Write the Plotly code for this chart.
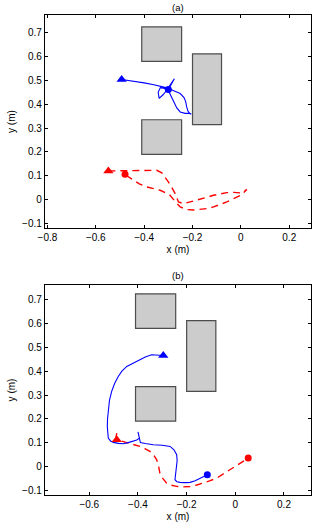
import plotly.graph_objects as go

# ---------------- data ----------------
# obstacles: [x0, x1, y0, y1]
obstacles = [
    [-0.41, -0.245, 0.58, 0.725],
    [-0.20, -0.08, 0.315, 0.612],
    [-0.41, -0.245, 0.19, 0.335],
]

# (a) blue trajectory
a_blue_x = [-0.493, -0.45, -0.40, -0.36, -0.334, -0.31, -0.28, -0.251, -0.235, -0.228, -0.224,
            -0.219, -0.212, -0.205, -0.214, -0.231, -0.251, -0.265, -0.276, -0.286, -0.296,
            -0.315, -0.333, -0.342, -0.338, -0.322, -0.306, -0.29, -0.275, -0.29, -0.30]
a_blue_y = [0.504, 0.498, 0.49, 0.482, 0.477, 0.47, 0.458, 0.445, 0.428, 0.41, 0.389,
            0.372, 0.362, 0.358, 0.362, 0.362, 0.368, 0.385, 0.408, 0.43, 0.45,
            0.466, 0.47, 0.45, 0.425, 0.44, 0.46, 0.485, 0.507, 0.48, 0.462]
a_blue_start = (-0.493, 0.504)
a_blue_goal = (-0.30, 0.462)

# (a) red trajectory
a_red_x = [-0.548, -0.50, -0.45, -0.417, -0.38, -0.348, -0.327, -0.31, -0.30, -0.285, -0.272,
           -0.258, -0.238, -0.21, -0.182, -0.145, -0.113, -0.085, -0.058, -0.03, -0.003,
           0.025, 0.0, -0.03, -0.058, -0.085, -0.113, -0.14, -0.168, -0.196, -0.224,
           -0.251, -0.272, -0.293, -0.315, -0.334, -0.36, -0.389, -0.42, -0.445, -0.472, -0.479]
a_red_y = [0.12, 0.121, 0.121, 0.12, 0.121, 0.123, 0.112, 0.09, 0.074, 0.05, 0.025,
           -0.01, -0.017, -0.01, -0.003, 0.008, 0.018, 0.025, 0.029, 0.03, 0.028,
           0.042, 0.018, 0.004, -0.01, -0.02, -0.031, -0.038, -0.042, -0.044, -0.042,
           -0.031, -0.008, 0.018, 0.03, 0.039, 0.046, 0.053, 0.066, 0.081, 0.1, 0.106]
a_red_start = (-0.548, 0.12)
a_red_goal = (-0.479, 0.106)

# (b) blue trajectory
b_blue_x = [-0.296, -0.32, -0.344, -0.37, -0.392, -0.42, -0.446, -0.466, -0.481, -0.496, -0.508,
            -0.517, -0.522, -0.525, -0.526, -0.525, -0.522, -0.513, -0.501, -0.48, -0.46,
            -0.44, -0.419, -0.405, -0.394, -0.40, -0.397, -0.39, -0.37, -0.337, -0.30,
            -0.268, -0.252, -0.241, -0.239, -0.241, -0.244, -0.245, -0.248, -0.24, -0.227,
            -0.205, -0.186, -0.165, -0.145, -0.13, -0.115]
b_blue_y = [0.466, 0.468, 0.469, 0.46, 0.448, 0.436, 0.42, 0.4, 0.378, 0.348, 0.315,
            0.278, 0.238, 0.2, 0.168, 0.14, 0.119, 0.107, 0.101, 0.097, 0.095,
            0.1, 0.105, 0.111, 0.119, 0.145, 0.126, 0.1, 0.096, 0.091, 0.089,
            0.084, 0.07, 0.049, 0.025, 0.0, -0.025, -0.042, -0.056, -0.064, -0.067,
            -0.068, -0.067, -0.06, -0.049, -0.042, -0.035]
b_blue_start = (-0.296, 0.466)
b_blue_goal = (-0.115, -0.035)

# (b) red trajectory
b_red_x = [-0.487, -0.49, -0.487, -0.466, -0.446, -0.42, -0.392, -0.37, -0.351, -0.335,
           -0.323, -0.315, -0.31, -0.298, -0.282, -0.262, -0.241, -0.215, -0.186, -0.158,
           -0.131, -0.103, -0.076, -0.049, -0.022, 0.0, 0.019, 0.036, 0.053]
b_red_y = [0.14, 0.125, 0.112, 0.106, 0.101, 0.093, 0.084, 0.074, 0.063, 0.047,
           0.028, 0.0, -0.028, -0.05, -0.07, -0.079, -0.084, -0.086, -0.084, -0.078,
           -0.07, -0.06, -0.049, -0.032, -0.014, 0.0, 0.014, 0.025, 0.035]
b_red_start = (-0.487, 0.112)
b_red_goal = (0.053, 0.035)

x_ticks = [-0.8, -0.6, -0.4, -0.2, 0, 0.2]
x_tick_labels = ["\u22120.8", "\u22120.6", "\u22120.4", "\u22120.2", "0", "0.2"]
y_ticks = [-0.1, 0, 0.1, 0.2, 0.3, 0.4, 0.5, 0.6, 0.7]
y_tick_labels = ["\u22120.1", "0", "0.1", "0.2", "0.3", "0.4", "0.5", "0.6", "0.7"]
titles = ["(a)", "(b)"]

# ---------------- figure ----------------
BLUE = "#0000ff"
RED = "#ff0000"
FONT = "Liberation Sans, Arial, sans-serif"

fig = go.Figure()

panels = [
    ("x", "y", a_blue_x, a_blue_y, a_blue_start, a_blue_goal,
     a_red_x, a_red_y, a_red_start, a_red_goal),
    ("x2", "y2", b_blue_x, b_blue_y, b_blue_start, b_blue_goal,
     b_red_x, b_red_y, b_red_start, b_red_goal),
]

for xr, yr, bx, by, bs, bg, rx, ry, rs, rg in panels:
    for ob in obstacles:
        fig.add_shape(type="rect", xref=xr, yref=yr, x0=ob[0], x1=ob[1], y0=ob[2], y1=ob[3],
                      fillcolor="#cccccc", line=dict(color="#4d4d4d", width=1.2), layer="below")
    fig.add_trace(go.Scatter(x=rx, y=ry, mode="lines", xaxis=xr, yaxis=yr,
                             line=dict(color=RED, width=1.4, dash="7px,5px"), showlegend=False))
    fig.add_trace(go.Scatter(x=bx, y=by, mode="lines", xaxis=xr, yaxis=yr,
                             line=dict(color=BLUE, width=1.1), showlegend=False))
    fig.add_trace(go.Scatter(x=[rs[0]], y=[rs[1]], mode="markers", xaxis=xr, yaxis=yr,
                             marker=dict(symbol="triangle-up", size=9, color=RED), showlegend=False))
    fig.add_trace(go.Scatter(x=[rg[0]], y=[rg[1]], mode="markers", xaxis=xr, yaxis=yr,
                             marker=dict(symbol="circle", size=7, color=RED), showlegend=False))
    fig.add_trace(go.Scatter(x=[bs[0]], y=[bs[1]], mode="markers", xaxis=xr, yaxis=yr,
                             marker=dict(symbol="triangle-up", size=9, color=BLUE), showlegend=False))
    fig.add_trace(go.Scatter(x=[bg[0]], y=[bg[1]], mode="markers", xaxis=xr, yaxis=yr,
                             marker=dict(symbol="circle", size=7, color=BLUE), showlegend=False))

axis_common = dict(showgrid=False, zeroline=False, showline=True, mirror="ticks",
                   linecolor="black", linewidth=1.3, ticks="inside", ticklen=3,
                   tickcolor="black", tickwidth=1, tickfont=dict(size=10, color="black", family=FONT))

fig.update_layout(
    width=314, height=526,
    margin=dict(l=45, r=3, t=15, b=31),
    plot_bgcolor="white", paper_bgcolor="white",
    font=dict(family=FONT, size=10, color="black"),
    xaxis=dict(domain=[0, 1], range=[-0.81, 0.29], anchor="y",
               tickvals=x_ticks, ticktext=x_tick_labels,
               title=dict(text="x (m)", standoff=3, font=dict(size=10)), **axis_common),
    yaxis=dict(domain=[0.556, 1.0], range=[-0.12, 0.775], anchor="x",
               tickvals=y_ticks, ticktext=y_tick_labels,
               title=dict(text="y (m)", standoff=4, font=dict(size=10)), **axis_common),
    xaxis2=dict(domain=[0, 1], range=[-0.782, 0.311], anchor="y2",
                tickvals=x_ticks, ticktext=x_tick_labels,
                title=dict(text="x (m)", standoff=3, font=dict(size=10)), **axis_common),
    yaxis2=dict(domain=[0, 0.4375], range=[-0.12, 0.762], anchor="x2",
                tickvals=y_ticks, ticktext=y_tick_labels,
                title=dict(text="y (m)", standoff=4, font=dict(size=10)), **axis_common),
    annotations=[
        dict(text=titles[0], xref="paper", yref="paper", x=0.5, y=1.0, yshift=8,
             xanchor="center", yanchor="middle", showarrow=False, font=dict(size=9.5)),
        dict(text=titles[1], xref="paper", yref="paper", x=0.5, y=0.4375, yshift=10,
             xanchor="center", yanchor="middle", showarrow=False, font=dict(size=9.5)),
    ],
)

fig.write_html("out.html")
